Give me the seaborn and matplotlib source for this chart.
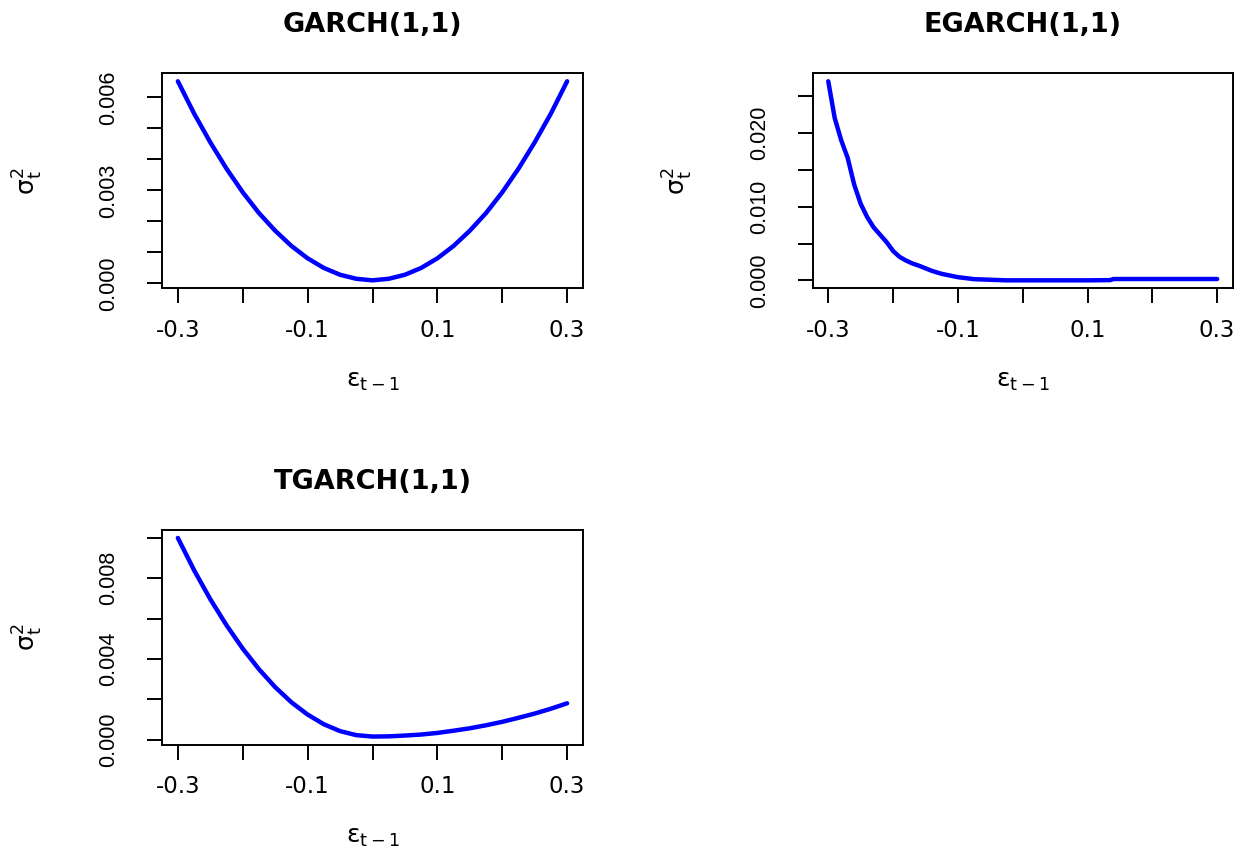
import numpy as np
import pandas as pd
import matplotlib
matplotlib.use("Agg")
import matplotlib.pyplot as plt
from matplotlib.ticker import FixedLocator, FixedFormatter
import seaborn as sns

# News impact curves: conditional variance against the previous shock
garch_eps = [-0.300, -0.275, -0.250, -0.225, -0.200, -0.175, -0.150, -0.125,
             -0.100, -0.075, -0.050, -0.025, 0.000, 0.025, 0.050, 0.075,
             0.100, 0.125, 0.150, 0.175, 0.200, 0.225, 0.250, 0.275, 0.300]
garch_sigma2 = [0.00652, 0.00548, 0.00455, 0.00370, 0.00294, 0.00227, 0.00170,
                0.00121, 0.00081, 0.00050, 0.00028, 0.00015, 0.00010, 0.00015,
                0.00028, 0.00050, 0.00081, 0.00121, 0.00170, 0.00227, 0.00294,
                0.00370, 0.00455, 0.00548, 0.00652]

egarch_eps = [-0.300, -0.290, -0.280, -0.270, -0.260, -0.250, -0.240, -0.230,
              -0.220, -0.210, -0.200, -0.190, -0.180, -0.170, -0.160, -0.150,
              -0.140, -0.125, -0.100, -0.075, -0.050, -0.025, 0.000, 0.050,
              0.100, 0.135, 0.140, 0.200, 0.250, 0.300]
egarch_sigma2 = [0.02700, 0.02200, 0.01900, 0.01660, 0.01300, 0.01040, 0.00860,
                 0.00720, 0.00620, 0.00520, 0.00400, 0.00320, 0.00270, 0.00230,
                 0.00200, 0.00165, 0.00130, 0.00090, 0.00045, 0.00018, 0.00010,
                 0.00002, 0.00002, 0.00002, 0.00002, 0.00005, 0.00020, 0.00020,
                 0.00020, 0.00020]

tgarch_eps = [-0.300, -0.275, -0.250, -0.225, -0.200, -0.175, -0.150, -0.125,
              -0.100, -0.075, -0.050, -0.025, 0.000, 0.025, 0.050, 0.075,
              0.100, 0.125, 0.150, 0.175, 0.200, 0.225, 0.250, 0.275, 0.300]
tgarch_sigma2 = [0.01000, 0.00840, 0.00696, 0.00567, 0.00451, 0.00349, 0.00260,
                 0.00185, 0.00124, 0.00076, 0.00042, 0.00022, 0.00015, 0.00016,
                 0.00020, 0.00025, 0.00033, 0.00044, 0.00056, 0.00071, 0.00088,
                 0.00108, 0.00129, 0.00153, 0.00180]

titles = ["GARCH(1,1)", "EGARCH(1,1)", "TGARCH(1,1)"]
x_label = r"ε$_{\mathregular{t-1}}$"
y_label = r"$\mathregular{σ_t^2}$"

x_ticks = [-0.3, -0.2, -0.1, 0.0, 0.1, 0.2, 0.3]
x_tick_labels = ["-0.3", "", "-0.1", "", "0.1", "", "0.3"]

garch_y_ticks = [0.000, 0.001, 0.002, 0.003, 0.004, 0.005, 0.006]
garch_y_labels = ["0.000", "", "", "0.003", "", "", "0.006"]
egarch_y_ticks = [0.000, 0.005, 0.010, 0.015, 0.020, 0.025]
egarch_y_labels = ["0.000", "", "0.010", "", "0.020", ""]
tgarch_y_ticks = [0.000, 0.002, 0.004, 0.006, 0.008, 0.010]
tgarch_y_labels = ["0.000", "", "0.004", "", "0.008", ""]

sns.set_theme(style="ticks")
plt.rcParams["font.family"] = ["DejaVu Sans"]
plt.rcParams["mathtext.fontset"] = "dejavusans"
plt.rcParams["text.color"] = "black"
plt.rcParams["axes.labelcolor"] = "black"

W, H = 1246, 857
fig = plt.figure(figsize=(W / 100, H / 100), dpi=100)
fig.patch.set_facecolor("white")


def px_rect(left, top, right, bottom):
    return [left / W, 1 - bottom / H, (right - left) / W, (bottom - top) / H]


panels = [
    (px_rect(162.3, 73.3, 582.7, 288.3), garch_eps, garch_sigma2,
     garch_y_ticks, garch_y_labels, titles[0]),
    (px_rect(812.7, 73.3, 1232.7, 288.3), egarch_eps, egarch_sigma2,
     egarch_y_ticks, egarch_y_labels, titles[1]),
    (px_rect(162.3, 530.0, 582.7, 744.5), tgarch_eps, tgarch_sigma2,
     tgarch_y_ticks, tgarch_y_labels, titles[2]),
]

for rect, eps, sig2, yt, yl, title in panels:
    ax = fig.add_axes(rect)
    df = pd.DataFrame({"eps": eps, "sigma2": sig2})
    sns.lineplot(data=df, x="eps", y="sigma2", ax=ax, color="#0000FF",
                 linewidth=3.2, solid_capstyle="round")

    lo, hi = min(sig2), max(sig2)
    span = hi - lo
    ax.set_ylim(lo - 0.04 * span, hi + 0.04 * span)
    ax.set_xlim(-0.324, 0.324)

    ax.xaxis.set_major_locator(FixedLocator(x_ticks))
    ax.xaxis.set_major_formatter(FixedFormatter(x_tick_labels))
    ax.yaxis.set_major_locator(FixedLocator(yt))
    ax.yaxis.set_major_formatter(FixedFormatter(yl))

    ax.tick_params(axis="x", direction="out", length=11, width=1.4,
                   color="black", labelsize=16.5, pad=11, labelcolor="black")
    ax.tick_params(axis="y", direction="out", length=11, width=1.4,
                   color="black", labelsize=15.5, pad=20, labelcolor="black",
                   labelrotation=90, labelfontfamily="Liberation Sans")
    for lab in ax.get_yticklabels():
        lab.set_va("center")
        lab.set_ha("right")

    for side in ["left", "right", "top", "bottom"]:
        ax.spines[side].set_visible(True)
        ax.spines[side].set_color("black")
        ax.spines[side].set_linewidth(1.4)

    ax.set_xlabel(x_label, fontsize=18, va="center")
    ax.xaxis.set_label_coords(0.5, -0.43)
    ax.set_ylabel(y_label, fontsize=18, va="center", ha="center")
    ax.yaxis.set_label_coords(-0.32, 0.5)

    ax.set_title(title, fontsize=19.5, fontweight="bold", y=1.225,
                 va="center", pad=0, color="black")
    ax.grid(False)

fig.savefig("out.png", dpi=100, facecolor="white")
